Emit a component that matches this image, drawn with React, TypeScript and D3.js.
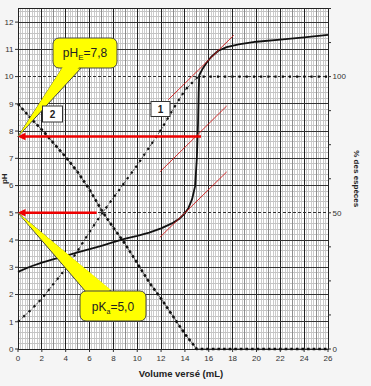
import React from "react";
import * as d3 from "d3";

// titration curve : pH vs volume
const volumePH = [0, 1, 2, 3, 4, 5, 6, 7, 8, 9, 10, 11, 12, 13, 13.5, 14, 14.3, 14.6, 14.85, 15.0, 15.1, 15.15, 15.2, 15.5, 15.8, 16.2, 16.8, 17.5, 18.5, 20, 22, 24, 26];
const pHValues = [2.83, 3.02, 3.17, 3.3, 3.42, 3.55, 3.67, 3.79, 3.92, 4.05, 4.15, 4.27, 4.43, 4.63, 4.77, 4.98, 5.18, 5.5, 5.97, 7.0, 8.3, 9.4, 10.05, 10.3, 10.5, 10.72, 10.95, 11.08, 11.18, 11.28, 11.36, 11.44, 11.53];

// curve 1 : % of base form
const volumeSpecies1 = [0, 1, 2, 3, 4, 5, 6, 7, 8, 9, 10, 11, 12, 13, 14, 15.1, 26];
const species1 = [10, 14, 18.5, 24, 29.5, 36, 43, 49.5, 55.5, 61.5, 67.5, 74, 80.5, 88, 95, 100, 100];

// curve 2 : % of acid form
const volumeSpecies2 = [0, 1, 2, 3, 4, 5, 6, 7, 8, 9, 10, 11, 12, 13, 14, 15, 26];
const species2 = [90, 85, 80.5, 75.5, 70.5, 65, 58.5, 51, 44.5, 38.5, 31.5, 24.5, 18.5, 12, 5.5, 0, 0];

const xTickLabels = [0, 2, 4, 6, 8, 10, 12, 14, 16, 18, 20, 22, 24, 26];
const pHTickLabels = [0, 1, 2, 3, 4, 5, 6, 7, 8, 9, 10, 11, 12];
const pctTicks = [0, 12.5, 25, 37.5, 50, 62.5, 75, 87.5, 100, 112.5, 125];
const pctTickLabels = [0, 50, 100];

// tangent method : [v0, pH0, v1, pH1]
const tangents = [
  [12.6, 9.15, 18.1, 11.52],
  [11.9, 6.5, 17.5, 8.92],
  [11.9, 4.1, 17.5, 6.5],
];

// red read-offs
const readPH = [7.8, 5.0];
const readVolume = [15.35, 6.6];

const font = "'Liberation Sans', Arial, sans-serif";

const App = () => {
  const x = d3.scaleLinear().domain([0, 26]).range([18, 328]);
  const y = d3.scaleLinear().domain([0, 12.5]).range([349, 8.5]);
  const yPct = d3.scaleLinear().domain([0, 125]).range([349, 8.5]);

  const gridX = d3.range(0, 131).map(i => ({ v: i * 0.2, kind: i % 10 === 0 ? 2 : i % 5 === 0 ? 1 : 0 }));
  const gridY = d3.range(0, 63).map(i => ({ v: i * 0.2, kind: i % 5 === 0 ? 2 : 0, dashed: i === 25 || i === 50 }));

  const phLine = d3.line<number>().x((d, i) => x(volumePH[i])).y(d => y(d));
  const sp1Line = d3.line<number>().x((d, i) => x(volumeSpecies1[i])).y(d => yPct(d));
  const sp2Line = d3.line<number>().x((d, i) => x(volumeSpecies2[i])).y(d => yPct(d));

  const callout = (bx: number, by: number, bw: number, bh: number, base: number[][], tip: number[]) => {
    const wedge = `M${base[0][0]},${base[0][1]}L${tip[0]},${tip[1]}L${base[1][0]},${base[1][1]}Z`;
    return (
      <g>
        <path d={wedge} fill="#ffff00" stroke="#444" strokeWidth={1} />
        <rect x={bx} y={by} width={bw} height={bh} rx={6} fill="#ffff00" stroke="#444" strokeWidth={1} />
        <path d={`M${base[0][0] + 1},${base[0][1] - 2}L${tip[0]},${tip[1]}L${base[1][0] - 1},${base[1][1] - 2}Z`} fill="#ffff00" />
      </g>
    );
  };

  return (
    <svg width={371} height={386} style={{ position: "absolute", left: 0, top: 0, background: "#f5f5f5" }} fontFamily={font}>
      <rect x={x(0)} y={y(12.5)} width={x(26) - x(0)} height={y(0) - y(12.5)} fill="#fff" />

      {/* grid */}
      <g shapeRendering="crispEdges">
        {gridX.filter(d => d.kind === 0).map((d, i) => (
          <line key={"mx" + i} x1={x(d.v)} x2={x(d.v)} y1={y(12.5)} y2={y(0)} stroke="#cbcbcb" strokeWidth={1} />
        ))}
        {gridY.filter(d => d.kind === 0).map((d, i) => (
          <line key={"my" + i} x1={x(0)} x2={x(26)} y1={y(d.v)} y2={y(d.v)} stroke="#c4c4c4" strokeWidth={1} />
        ))}
        {gridX.filter(d => d.kind === 1).map((d, i) => (
          <line key={"hx" + i} x1={x(d.v)} x2={x(d.v)} y1={y(12.5)} y2={y(0)} stroke="#8c8c8c" strokeWidth={1} />
        ))}
        {gridX.filter(d => d.kind === 2).map((d, i) => (
          <line key={"Mx" + i} x1={x(d.v)} x2={x(d.v)} y1={y(12.5)} y2={y(0)} stroke="#222" strokeWidth={1} />
        ))}
        {gridY.filter(d => d.kind === 2).map((d, i) => (
          <line key={"My" + i} x1={x(0)} x2={x(26)} y1={y(d.v)} y2={y(d.v)} stroke="#333" strokeWidth={1}
            strokeDasharray={d.dashed ? "3,2" : undefined} />
        ))}
        <rect x={x(0)} y={y(12.5)} width={x(26) - x(0)} height={y(0) - y(12.5)} fill="none" stroke="#222" strokeWidth={1} />
      </g>

      {/* axes ticks and labels */}
      <g fontSize={8} fill="#333">
        {pHTickLabels.map(t => (
          <g key={"yl" + t}>
            <line x1={x(0) - 3} x2={x(0)} y1={y(t)} y2={y(t)} stroke="#333" />
            <text x={x(0) - 4.5} y={y(t)} dy="0.35em" textAnchor="end">{t}</text>
          </g>
        ))}
        {xTickLabels.map(t => (
          <g key={"xl" + t}>
            <line x1={x(t)} x2={x(t)} y1={y(0)} y2={y(0) + 3} stroke="#333" />
            <text x={x(t)} y={y(0) + 11.5} textAnchor="middle">{t}</text>
          </g>
        ))}
        {pctTicks.map(t => (
          <line key={"pt" + t} x1={x(26)} x2={x(26) + 3} y1={yPct(t)} y2={yPct(t)} stroke="#333" />
        ))}
        {pctTickLabels.map(t => (
          <text key={"pl" + t} x={x(26) + 4.5} y={yPct(t)} dy="0.35em">{t}</text>
        ))}
      </g>
      <text transform={`translate(7,${(y(0) + y(12.5)) / 2}) rotate(-90)`} textAnchor="middle" fontSize={8} fontWeight="bold" fill="#222">pH</text>
      <text transform={`translate(354,${(y(0) + y(12.5)) / 2}) rotate(90)`} textAnchor="middle" fontSize={8} fontWeight="bold" fill="#222">% des espèces</text>
      <text x={181} y={377} textAnchor="middle" fontSize={9.5} fontWeight="bold" fill="#222">Volume versé (mL)</text>

      {/* species curves */}
      <path d={sp1Line(species1) || ""} fill="none" stroke="#333" strokeWidth={0.8} strokeDasharray="3,2" />
      <path d={sp1Line(species1) || ""} fill="none" stroke="#111" strokeWidth={2.2} strokeDasharray="2.2,5" />
      <path d={sp2Line(species2) || ""} fill="none" stroke="#333" strokeWidth={0.8} />
      <path d={sp2Line(species2) || ""} fill="none" stroke="#111" strokeWidth={2.6} strokeDasharray="2.6,3" />

      {/* pH curve */}
      <path d={phLine(pHValues) || ""} fill="none" stroke="#111" strokeWidth={1.8} strokeLinejoin="round" />

      {/* tangents */}
      {tangents.map((t, i) => (
        <line key={"t" + i} x1={x(t[0])} y1={y(t[1])} x2={x(t[2])} y2={y(t[3])} stroke="#d01818" strokeWidth={0.9} />
      ))}

      {/* red read-off arrows */}
      {readPH.map((p, i) => (
        <g key={"r" + i}>
          <line x1={x(readVolume[i])} x2={x(0) + 6} y1={y(p)} y2={y(p)} stroke="#ee0000" strokeWidth={2.5} />
          <path d={`M${x(0) - 0.5},${y(p)}L${x(0) + 7.5},${y(p) - 3.8}L${x(0) + 7.5},${y(p) + 3.8}Z`} fill="#ee0000" />
        </g>
      ))}

      {/* callouts */}
      {callout(53, 38, 64, 30, [[63, 67], [82, 67]], [x(0), y(readPH[0])])}
      <text x={85} y={56.5} textAnchor="middle" fontSize={12} fill="#222">
        pH<tspan fontSize={8} dy={3}>E</tspan><tspan dy={-3}>=7,8</tspan>
      </text>
      {callout(80, 291, 66, 30, [[86, 292], [112, 292]], [x(0), y(readPH[1])])}
      <text x={113} y={310.5} textAnchor="middle" fontSize={12} fill="#222">
        pK<tspan fontSize={7} dy={3}>a</tspan><tspan dy={-3}>=5,0</tspan>
      </text>

      {/* curve labels */}
      <rect x={151} y={101.5} width={19} height={15} fill="#fff" stroke="#333" strokeWidth={1} />
      <text x={160.5} y={113} textAnchor="middle" fontSize={10} fontWeight="bold" fill="#222">1</text>
      <rect x={42.5} y={106} width={20} height={16} fill="#fff" stroke="#333" strokeWidth={1} />
      <text x={52.5} y={118} textAnchor="middle" fontSize={10} fontWeight="bold" fill="#222">2</text>
    </svg>
  );
};

export default App;
